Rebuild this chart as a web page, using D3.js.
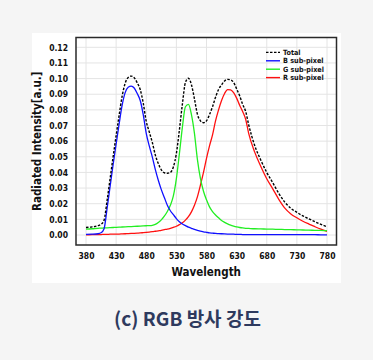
<!DOCTYPE html>
<html>
<head>
<meta charset="utf-8">
<script src="https://cdn.jsdelivr.net/npm/d3@7/dist/d3.min.js"></script>
<style>
  html, body { margin: 0; padding: 0; background: #f5f5f5; }
  svg { display: block; }
</style>
</head>
<body>
<svg id="chart" width="373" height="360"></svg>
<script>
// ---------- data ----------
const wavelengths = [380,390,400,405,410,415,420,425,430,435,440,445,450,455,460,465,470,475,480,485,490,495,500,505,510,515,520,525,530,535,540,545,550,555,560,565,570,575,580,585,590,595,600,605,610,615,620,625,630,635,640,645,650,660,670,680,690,700,710,720,730,740,750,760,770,780];

const blueValues = [0.0004,0.0005,0.0008,0.0014,0.004,0.017,0.031,0.045,0.058,0.071,0.083,0.091,0.0945,0.0952,0.094,0.0905,0.086,0.077,0.065,0.057,0.050,0.042,0.035,0.029,0.024,0.019,0.0155,0.013,0.0105,0.0085,0.007,0.006,0.005,0.0043,0.0036,0.003,0.0025,0.002,0.0017,0.0014,0.0012,0.001,0.0009,0.0008,0.0007,0.0006,0.0005,0.0005,0.0004,0.0004,0.0003,0.0003,0.0003,0.0002,0.0002,0.0002,0.0002,0.0002,0.0002,0.0002,0.0002,0.0002,0.0002,0.0002,0.0001,0.0001];

const greenValues = [0.0038,0.004,0.0043,0.0044,0.0045,0.0046,0.0047,0.0048,0.0049,0.005,0.0051,0.0052,0.0053,0.0054,0.0055,0.0056,0.0057,0.0058,0.0059,0.006,0.0062,0.0068,0.008,0.0097,0.012,0.015,0.019,0.025,0.036,0.052,0.069,0.082,0.0835,0.077,0.065,0.048,0.036,0.028,0.0225,0.018,0.015,0.0128,0.011,0.0093,0.0081,0.0071,0.0063,0.0057,0.0052,0.0048,0.0045,0.0043,0.0042,0.004,0.0039,0.0038,0.0037,0.0036,0.0035,0.0034,0.0033,0.0032,0.0031,0.003,0.0029,0.0028];

const redValues = [0.0001,0.0002,0.0003,0.0003,0.0004,0.0004,0.0005,0.0005,0.0006,0.0006,0.0007,0.0008,0.0009,0.001,0.0011,0.0012,0.0013,0.0015,0.0017,0.0019,0.0021,0.0024,0.0027,0.003,0.0034,0.0038,0.0043,0.0049,0.0056,0.0066,0.0078,0.0095,0.0117,0.0148,0.019,0.0245,0.032,0.040,0.049,0.057,0.064,0.073,0.080,0.086,0.0905,0.093,0.0928,0.091,0.0875,0.083,0.079,0.074,0.065,0.053,0.044,0.036,0.0295,0.0228,0.0172,0.0135,0.011,0.0088,0.007,0.0053,0.0037,0.0023];

const totalValues = [0.0048,0.0052,0.006,0.0068,0.0095,0.022,0.036,0.050,0.0635,0.0766,0.0888,0.097,0.1007,0.1016,0.1006,0.0973,0.093,0.0843,0.0726,0.0659,0.0593,0.0512,0.0457,0.0417,0.0398,0.0395,0.040,0.0435,0.0521,0.0671,0.0838,0.0975,0.1002,0.0961,0.087,0.077,0.073,0.0718,0.073,0.077,0.082,0.088,0.093,0.096,0.0985,0.0995,0.0992,0.0975,0.0935,0.089,0.0835,0.079,0.0705,0.0572,0.048,0.040,0.0334,0.0266,0.021,0.0171,0.0145,0.0122,0.0103,0.0085,0.0068,0.0053];

const xTicks = [380,430,480,530,580,630,680,730,780];
const yTicks = [0.00,0.01,0.02,0.03,0.04,0.05,0.06,0.07,0.08,0.09,0.10,0.11,0.12];

const seriesNames = ["Total","B sub-pixel","G sub-pixel","R sub-pixel"];
const seriesColors = ["#000000","#1010ff","#22ee22","#ff1010"];

// ---------- drawing ----------
const svg = d3.select("#chart");
const font = "'DejaVu Sans Condensed','DejaVu Sans',Verdana,sans-serif";

// white panel
svg.append("rect").attr("x",32).attr("y",33).attr("width",309).attr("height",250).attr("fill","#ffffff");

const frame = {l:76, t:37.5, r:336.5, b:245};
const x = d3.scaleLinear().domain([380,780]).range([86,327]);
const y = d3.scaleLinear().domain([0,0.12]).range([235,47.3]);

// grid
const grid = svg.append("g");
grid.selectAll("line.v").data(xTicks).join("line")
  .attr("x1",d=>x(d)).attr("x2",d=>x(d)).attr("y1",frame.t).attr("y2",frame.b)
  .attr("stroke","#e4e4e4").attr("stroke-width",1);
grid.selectAll("line.h").data(yTicks).join("line")
  .attr("y1",d=>y(d)).attr("y2",d=>y(d)).attr("x1",frame.l).attr("x2",frame.r)
  .attr("stroke","#e4e4e4").attr("stroke-width",1);

// axes (labels only, no tick marks)
const xAxis = d3.axisBottom(x).tickValues(xTicks).tickSize(0).tickPadding(0).tickFormat(d3.format("d"));
const gx = svg.append("g").attr("transform",`translate(0,${frame.b+8})`).call(xAxis);
gx.select(".domain").remove();
gx.selectAll("text").attr("font-family",font).attr("font-weight","bold").attr("font-size",8.5).attr("fill","#111").attr("dy","0.71em");

const yAxis = d3.axisLeft(y).tickValues(yTicks).tickSize(0).tickPadding(0).tickFormat(d3.format(".2f"));
const gy = svg.append("g").attr("transform",`translate(${frame.l-8},0)`).call(yAxis);
gy.select(".domain").remove();
gy.selectAll("text").attr("font-family",font).attr("font-weight","bold").attr("font-size",8.5).attr("fill","#111");

// clip
svg.append("clipPath").attr("id","clip").append("rect")
  .attr("x",frame.l).attr("y",frame.t).attr("width",frame.r-frame.l).attr("height",frame.b-frame.t);

const line = d3.line().x(d=>x(d[0])).y(d=>y(d[1])).curve(d3.curveMonotoneX);
const seriesData = [totalValues, blueValues, greenValues, redValues];
const plot = svg.append("g").attr("clip-path","url(#clip)");
// draw colored first, total on top
[3,2,1,0].forEach(i=>{
  const pts = wavelengths.map((w,k)=>[w, seriesData[i][k]]);
  plot.append("path").attr("d",line(pts)).attr("fill","none")
    .attr("stroke",seriesColors[i]).attr("stroke-width",i===0?1.4:1.3)
    .attr("stroke-dasharray",i===0?"2.5,1.5":null);
});

// frame
svg.append("rect").attr("x",frame.l).attr("y",frame.t).attr("width",frame.r-frame.l).attr("height",frame.b-frame.t)
  .attr("fill","none").attr("stroke","#2a2a2a").attr("stroke-width",1.5);

// legend
const lg = svg.append("g");
seriesNames.forEach((name,i)=>{
  const ly = 52.4 + i*8.4;
  lg.append("line").attr("x1",266).attr("x2",280).attr("y1",ly).attr("y2",ly)
    .attr("stroke",seriesColors[i]).attr("stroke-width",1.4)
    .attr("stroke-dasharray",i===0?"2.5,1.5":null);
  lg.append("text").attr("x",283).attr("y",ly).attr("dy","0.35em")
    .attr("font-family",font).attr("font-weight","bold").attr("font-size",7.2).attr("fill","#111").text(name);
});

// axis titles
svg.append("text").attr("x",(frame.l+frame.r)/2).attr("y",276).attr("text-anchor","middle")
  .attr("font-family",font).attr("font-weight","bold").attr("font-size",11.5).attr("fill","#111").text("Wavelength");
svg.append("text").attr("transform",`translate(41,${(frame.t+frame.b)/2}) rotate(-90)`).attr("text-anchor","middle")
  .attr("font-family",font).attr("font-weight","bold").attr("font-size",11.5).attr("fill","#111").text("Radiated Intensity[a.u.]");

// caption
svg.append("text").attr("x",187.5).attr("y",326).attr("text-anchor","middle")
  .attr("font-family","'Noto Sans CJK KR','Noto Sans',sans-serif").attr("font-weight","bold").attr("font-size",19)
  .attr("fill","#2e3a5e").text("(c) RGB 방사 강도");
</script>
</body>
</html>
